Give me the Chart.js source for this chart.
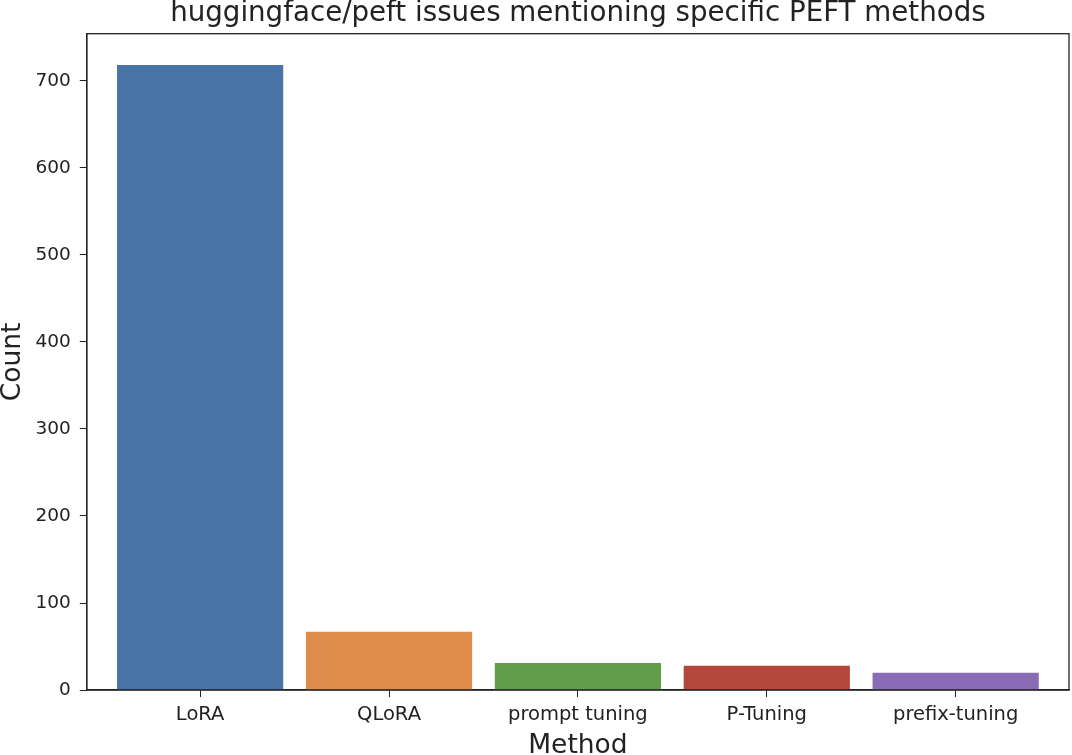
<!DOCTYPE html>
<html>
<head>
<meta charset="utf-8">
<script src="https://cdn.jsdelivr.net/npm/chart.js@4"></script>
<style>
  body { margin: 0; background: #fff; }
  #wrap { width: 1072px; height: 755px; }
</style>
</head>
<body>
<div id="wrap"><canvas id="barChart"></canvas></div>
<script>
const methods = ['LoRA', 'QLoRA', 'prompt tuning', 'P-Tuning', 'prefix-tuning'];
const counts = [718, 67, 31, 28, 20];
const barColors = ['#4874A8', '#E08C4A', '#629D4C', '#B5463C', '#8A6BB5'];
const yTicks = [0, 100, 200, 300, 400, 500, 600, 700];

const ctx = document.querySelector('#barChart').getContext('2d');

// box round the plot area, like matplotlib spines
const frame = {
    id: 'frame',
    afterDatasetsDraw(chart) {
        const a = chart.chartArea;
        const c = chart.ctx;
        c.save();
        c.strokeStyle = '#222';
        c.lineWidth = 1.3;
        c.strokeRect(a.left, a.top, a.right - a.left, a.bottom - a.top);
        c.restore();
    }
};

// numeric x so the axis can keep matplotlib's margins (-0.6 .. 4.6)
const barData = counts.map((v, i) => ({ x: i, y: v }));

let barChart = new Chart(ctx, {
    type: 'bar',
    data: {
        datasets: [{
            data: barData,
            backgroundColor: barColors,
            barPercentage: 0.88,
            categoryPercentage: 1
        }]
    },
    options: {
        responsive: true,
        maintainAspectRatio: false,
        animation: false,
        layout: {
            padding: { left: 0, right: 3, top: 0, bottom: 0 }
        },
        plugins: {
            legend: { display: false },
            tooltip: { enabled: false },
            title: {
                display: true,
                fullSize: false,
                text: 'huggingface/peft issues mentioning specific PEFT methods',
                color: '#222',
                font: { family: 'DejaVu Sans', size: 27.7, weight: 'normal', lineHeight: 1 },
                padding: { top: 0, bottom: 6 }
            }
        },
        scales: {
            x: {
                type: 'linear',
                min: -0.6,
                max: 4.6,
                offset: false,
                afterBuildTicks(scale) {
                    scale.ticks = methods.map((m, i) => ({ value: i }));
                },
                grid: { offset: false, drawOnChartArea: false, drawTicks: true, tickLength: 7, color: '#222' },
                border: { color: '#222', width: 1.3 },
                ticks: {
                    color: '#222',
                    font: { family: 'DejaVu Sans', size: 19.5 },
                    padding: 6,
                    maxRotation: 0,
                    autoSkip: false,
                    callback: (value) => methods[value]
                },
                title: {
                    display: true,
                    text: 'Method',
                    color: '#222',
                    font: { family: 'DejaVu Sans', size: 26.5, lineHeight: 1 },
                    padding: { top: 0, bottom: -4 }
                }
            },
            y: {
                min: 0,
                max: 754,
                afterBuildTicks(scale) {
                    scale.ticks = yTicks.map(v => ({ value: v }));
                },
                grid: { drawOnChartArea: false, drawTicks: true, tickLength: 7, color: '#222' },
                border: { color: '#222', width: 1.3 },
                ticks: { color: '#222', font: { family: 'DejaVu Sans', size: 18.5 }, padding: 9 },
                title: {
                    display: true,
                    text: 'Count',
                    color: '#222',
                    font: { family: 'DejaVu Sans', size: 26.5, lineHeight: 1 },
                    padding: { top: 0, bottom: 0 }
                }
            }
        }
    },
    plugins: [frame]
});
</script>
</body>
</html>
